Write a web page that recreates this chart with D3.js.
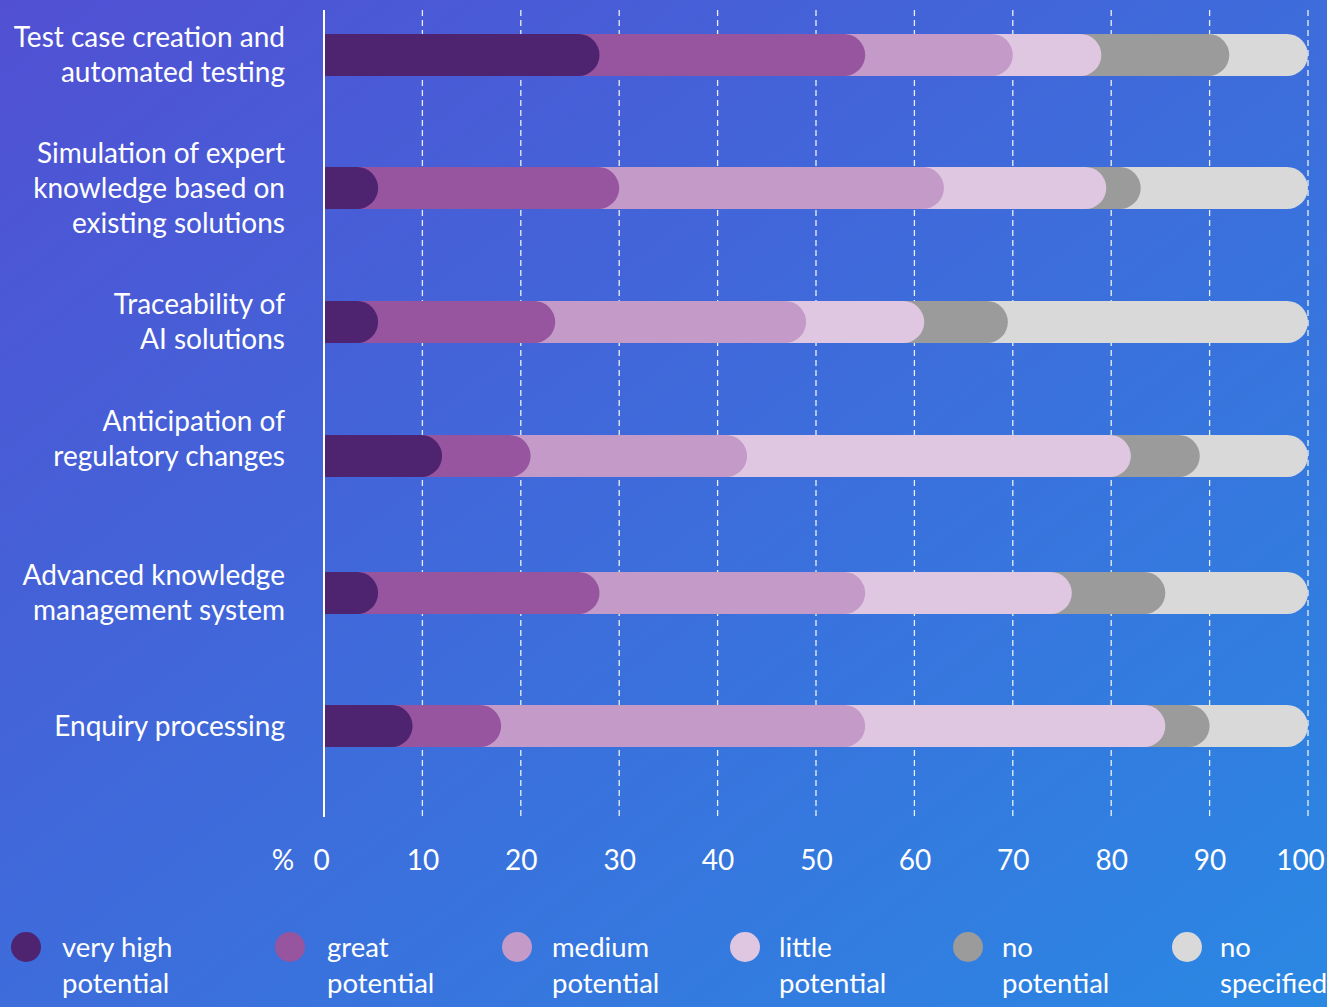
<!DOCTYPE html>
<html>
<head>
<meta charset="utf-8">
<script src="https://cdn.jsdelivr.net/npm/d3@7"></script>
<style>
html,body{margin:0;padding:0;overflow:hidden;}
body{width:1327px;height:1007px;}
svg{display:block;}
text{font-family:Lato,"Open Sans",sans-serif;fill:#fff;}
</style>
</head>
<body>
<svg id="chart" width="1327" height="1007"></svg>
<script>
const categories = [
  ["Test case creation and","automated testing"],
  ["Simulation of expert","knowledge based on","existing solutions"],
  ["Traceability of","AI solutions"],
  ["Anticipation of","regulatory changes"],
  ["Advanced knowledge","management system"],
  ["Enquiry processing"]
];
const seriesNames = ["very high potential","great potential","medium potential","little potential","no potential","no specified"];
const legendLines = [["very high","potential"],["great","potential"],["medium","potential"],["little","potential"],["no","potential"],["no","specified"]];
const veryHigh   = [28, 5.5, 5.5, 12, 5.5, 9];
const great      = [27, 24.5, 18, 9, 22.5, 9];
const medium     = [15, 33, 25.5, 22, 27, 37];
const little     = [9, 16.5, 12, 39, 21, 30.5];
const noPot      = [13, 3.5, 8.5, 7, 9.5, 4.5];
const notSpec    = [8, 17, 30.5, 11, 14.5, 10];
const tickValues = [0,10,20,30,40,50,60,70,80,90,100];
const colors = ["#4e2370","#96559e","#c49bc8","#dfc7e2","#9b9b9b","#d9d9d9"];

const svg = d3.select("#chart");
const W = 1327, H = 1007;

const defs = svg.append("defs");
const grad = defs.append("linearGradient").attr("id","bg")
  .attr("x1","0%").attr("y1","0%").attr("x2","100%").attr("y2","100%");
grad.append("stop").attr("offset","0%").attr("stop-color","#5150d3");
grad.append("stop").attr("offset","100%").attr("stop-color","#2a88e3");
svg.append("rect").attr("width",W).attr("height",H).attr("fill","url(#bg)");

const table = categories.map((c,i)=>({
  cat:i,
  s0:veryHigh[i], s1:great[i], s2:medium[i], s3:little[i], s4:noPot[i], s5:notSpec[i]
}));
const keys = ["s0","s1","s2","s3","s4","s5"];
const stack = d3.stack().keys(keys)(table);

const x = d3.scaleLinear().domain([0,100]).range([324,1308]);
const rowCenters = [55,188,322,456,593,726];
const labelCenters = [55,188,322,438.5,593,726];
const y = d3.scaleOrdinal().domain(d3.range(categories.length)).range(rowCenters);
const barH = 42, r = barH/2;

svg.append("g").selectAll("line").data(tickValues.filter(d=>d>0)).join("line")
  .attr("x1",d=>x(d)).attr("x2",d=>x(d)).attr("y1",10).attr("y2",817)
  .attr("stroke","#fff").attr("stroke-width",1.3).attr("stroke-dasharray","6,4").attr("opacity",0.9);

const barsG = svg.append("g");
for (let k = stack.length-1; k>=0; k--) {
  barsG.append("g").selectAll("path").data(stack[k]).join("path")
    .attr("fill",colors[k])
    .attr("d",(d,i)=>{
      const x0 = x(0)+1, x1 = x(d[1]);
      const yc = y(i), yt = yc - r;
      const w = x1 - x0;
      return `M${x0},${yt}h${w-r}a${r},${r} 0 0 1 0,${2*r}h${-(w-r)}Z`;
    });
}

svg.append("line").attr("x1",x(0)).attr("x2",x(0)).attr("y1",10).attr("y2",817)
  .attr("stroke","#fff").attr("stroke-width",2);

const axis = d3.axisBottom(x).tickValues(tickValues).tickSize(0).tickPadding(0);
const axG = svg.append("g").attr("transform","translate(0,860)").call(axis);
axG.select(".domain").remove();
axG.selectAll("text").attr("dy","0.35em").attr("font-size",28).attr("fill","#fff")
  .style("font-family","Lato,'Open Sans',sans-serif")
  .attr("dx",d=>d===0?-3:(d===100?-8:0));
svg.append("text").attr("x",283).attr("y",860).attr("dy","0.35em").attr("text-anchor","middle")
  .attr("font-size",28).text("%");

const labG = svg.append("g");
categories.forEach((lines,i)=>{
  const n = lines.length, lh = 35;
  const t = labG.append("text").attr("text-anchor","end").attr("font-size",28);
  lines.forEach((ln,j)=>{
    t.append("tspan").attr("x",285).attr("y",labelCenters[i]+(j-(n-1)/2)*lh).attr("dy","0.35em").text(ln);
  });
});

const legX = [26,290,517,745,968,1187];
const legTextX = [62,327,552,779,1002,1220];
const legG = svg.append("g");
legendLines.forEach((lines,i)=>{
  legG.append("circle").attr("cx",legX[i]).attr("cy",947).attr("r",15).attr("fill",colors[i]);
  const t = legG.append("text").attr("font-size",27.5);
  lines.forEach((ln,j)=>{
    t.append("tspan").attr("x",legTextX[i]).attr("y",947+j*36).attr("dy","0.35em").text(ln);
  });
});
</script>
</body>
</html>
